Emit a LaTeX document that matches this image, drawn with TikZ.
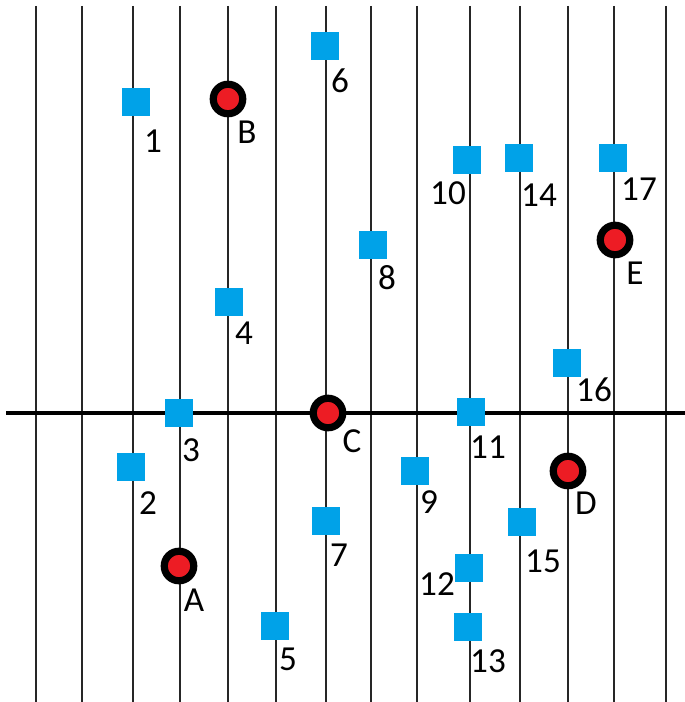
\documentclass[tikz,border=0pt]{standalone}
\usepackage{fontspec}
\setmainfont{Carlito}
\definecolor{ptblue}{RGB}{0,162,232}
\definecolor{sitered}{RGB}{237,28,36}
\usepackage{tikz}
\usetikzlibrary{positioning}

\begin{document}
\begin{tikzpicture}[
  x=0.02cm, y=-0.02cm,
  gridline/.style={line width=1.1pt, black!85},
  axisline/.style={line width=2.4pt, black},
  pt/.style={rectangle, fill=ptblue, minimum size=0.57cm, inner sep=0pt},
  site/.style={circle, draw=black, line width=4.1pt, fill=sitered, minimum size=0.59cm, inner sep=0pt},
  tag/.style={font=\fontsize{20}{24}\selectfont, inner sep=0pt},
]
\useasboundingbox (0,0) rectangle (685,702);

% Vertical lines
\foreach \gx in {36,82,133,180,228,276,326,371,417,470,520,568,614,666}
  \draw[gridline] (\gx,6) -- (\gx,702);

% Axis
\coordinate (axl) at (6,413);
\coordinate (axr) at (685,413);
\draw[axisline] (axl) -- (axr);

% Points
\node[pt] (p1) at (136,102) {};  \node[tag] (l1) at (153,141) {1};
\node[pt] (p2) at (131,467) {};  \node[tag] (l2) at (148,503) {2};
\node[pt] (p3) at (179,413) {};  \node[tag] (l3) at (191,450) {3};
\node[pt] (p4) at (229,302) {};  \node[tag] (l4) at (244,333) {4};
\node[pt] (p5) at (275,626) {};  \node[tag] (l5) at (288,659) {5};
\node[pt] (p6) at (325,46) {};   \node[tag] (l6) at (340,81) {6};
\node[pt] (p7) at (326,521) {};  \node[tag] (l7) at (339,555) {7};
\node[pt] (p8) at (373,245) {};  \node[tag] (l8) at (387,278) {8};
\node[pt] (p9) at (415,471) {};  \node[tag] (l9) at (429,502) {9};
\node[pt] (p10) at (467,160) {}; \node[tag] (l10) at (448,193) {10};
\node[pt] (p11) at (471,412) {}; \node[tag] (l11) at (488,447) {11};
\node[pt] (p12) at (469,568) {}; \node[tag] (l12) at (437,584) {12};
\node[pt] (p13) at (468,627) {}; \node[tag] (l13) at (488,661) {13};
\node[pt] (p14) at (519,158) {}; \node[tag] (l14) at (539,195) {14};
\node[pt] (p15) at (522,522) {}; \node[tag] (l15) at (543,561) {15};
\node[pt] (p16) at (567,363) {}; \node[tag] (l16) at (594,390) {16};
\node[pt] (p17) at (613,158) {}; \node[tag] (l17) at (639,189) {17};

% Sites
\node[site] (A) at (179,566) {}; \node[tag] (lA) at (194,600) {A};
\node[site] (B) at (228,99) {};  \node[tag] (lB) at (247,132) {B};
\node[site] (C) at (328,413) {}; \node[tag] (lC) at (352,441) {C};
\node[site] (D) at (568,471) {}; \node[tag] (lD) at (586,503) {D};
\node[site] (E) at (615,240) {}; \node[tag] (lE) at (635,273) {E};

\end{tikzpicture}
\end{document}
